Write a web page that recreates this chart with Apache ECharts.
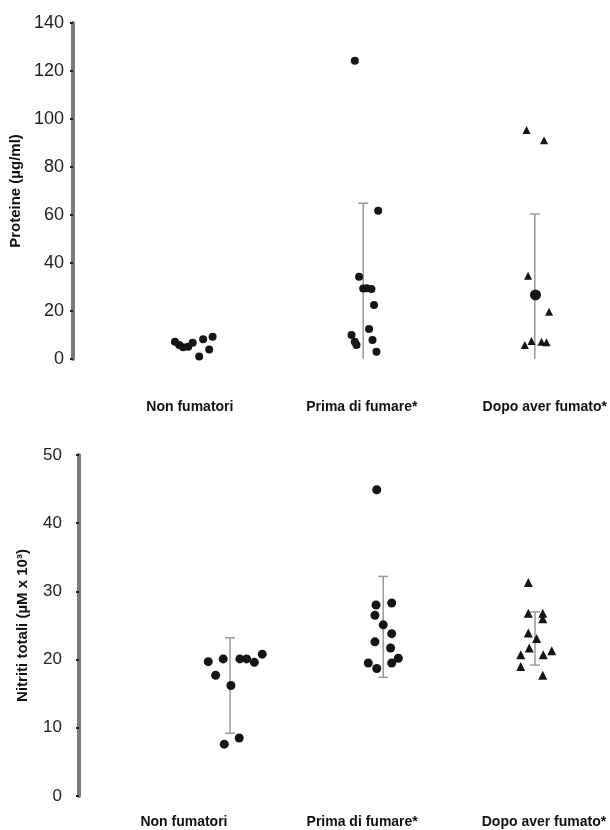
<!DOCTYPE html>
<html>
<head>
<meta charset="utf-8">
<script src="https://cdn.jsdelivr.net/npm/echarts@6/dist/echarts.min.js"></script>
<style>
  body{margin:0;background:#fff}
  #main{width:610px;height:830px}
</style>
</head>
<body>
<div id="main"></div>
<script>
const categories = ['Non fumatori', 'Prima di fumare*', 'Dopo aver fumato*']

// proteine (ug/ml) - [x position (group + jitter), value]
const protNon = [[-0.087,7.2],[-0.062,5.8],[-0.039,4.9],[-0.010,5.1],[0.016,6.8],[0.054,1.0],[0.077,8.2],[0.112,4.0],[0.132,9.3]]
const protPrima = [[0.959,124.3],[1.095,61.8],[0.984,34.3],[1.008,29.4],[1.030,29.5],[1.056,29.2],[1.071,22.5],[1.042,12.5],[0.940,10.0],[0.959,7.2],[0.969,5.8],[1.062,7.9],[1.085,3.0]]
const protDopo = [[1.958,95.4],[2.060,91.1],[1.967,34.7],[2.089,19.7],[1.948,5.8],[1.987,7.5],[2.045,7.2],[2.074,7.0]]
const protDopoBig = [[2.010,26.7]]
// error bars [x, low, high]
const protBars = [[1.008,0,64.9],[2.006,0,60.4]]

// nitriti totali (uM x 10^3)
const nitNon = [[0.135,19.7],[0.218,20.1],[0.176,17.7],[0.261,16.2],[0.311,20.1],[0.348,20.1],[0.391,19.6],[0.435,20.8],[0.224,7.6],[0.307,8.5]]
const nitPrima = [[1.071,44.9],[1.067,28.0],[1.154,28.3],[1.061,26.5],[1.107,25.1],[1.154,23.8],[1.061,22.6],[1.148,21.7],[1.024,19.5],[1.071,18.7],[1.154,19.5],[1.191,20.2]]
const nitDopo = [[1.913,31.3],[1.913,26.8],[1.993,26.8],[1.993,26.0],[1.913,23.9],[1.959,23.1],[1.918,21.7],[1.871,20.7],[1.996,20.7],[2.043,21.3],[1.871,19.0],[1.993,17.7]]
const nitBars = [[0.256,9.2,23.2],[1.107,17.4,32.2],[1.95,19.2,27.0]]

const dotColor = '#151515'

function xAxisFor(gridIndex, min, max, labelPos, margin){
  return {
    type:'value', gridIndex:gridIndex, min:min, max:max,
    axisLine:{show:false, onZero:false}, axisTick:{show:false}, splitLine:{show:false},
    axisLabel:{
      customValues:labelPos,
      margin:margin,
      fontFamily:'Liberation Sans', fontWeight:'bold', fontSize:14, color:'#111',
      formatter:function(v){
        let i = labelPos.indexOf(v)
        return i >= 0 ? categories[i] : ''
      }
    }
  }
}

function yAxisFor(gridIndex, max, interval, name, nameGap, labelMargin, labelSize){
  return {
    type:'value', gridIndex:gridIndex, min:0, max:max, interval:interval,
    name:name, nameLocation:'middle', nameGap:nameGap,
    nameTextStyle:{fontFamily:'Liberation Sans', fontWeight:'bold', fontSize:15, color:'#111'},
    axisLine:{show:true, onZero:false, lineStyle:{color:'#7a7a7a', width:4}},
    axisTick:{show:true, length:3, lineStyle:{color:'#222', width:2}},
    splitLine:{show:false},
    axisLabel:{fontFamily:'Liberation Sans', fontSize:labelSize, color:'#222', margin:labelMargin}
  }
}

function scatter(data, idx, symbol, size){
  return {
    type:'scatter', xAxisIndex:idx, yAxisIndex:idx, data:data,
    symbol:symbol, symbolSize:size, z:3,
    itemStyle:{color:dotColor, opacity:1}
  }
}

// vertical bar with caps, drawn through the axes
function errorBars(data, idx){
  return {
    type:'custom', xAxisIndex:idx, yAxisIndex:idx, data:data, z:2,
    encode:{x:0, y:[1,2]},
    renderItem:function(params, api){
      const x = api.value(0), lo = api.value(1), hi = api.value(2)
      const pLo = api.coord([x, lo]), pHi = api.coord([x, hi])
      const st = {stroke:'#9a9a9a', lineWidth:1.5}
      const children = [
        {type:'line', shape:{x1:pHi[0], y1:pHi[1], x2:pLo[0], y2:pLo[1]}, style:st},
        {type:'line', shape:{x1:pHi[0]-5, y1:pHi[1], x2:pHi[0]+5, y2:pHi[1]}, style:st}
      ]
      if(lo > 0){
        children.push({type:'line', shape:{x1:pLo[0]-5, y1:pLo[1], x2:pLo[0]+5, y2:pLo[1]}, style:st})
      }
      return {type:'group', children:children}
    }
  }
}

const myChart = echarts.init(document.querySelector('#main'), null, {renderer:'canvas'})
const option = {
  backgroundColor:'#fff',
  animation:false,
  grid:[
    {left:73, top:23, width:516, height:336},
    {left:79, top:455, width:519, height:341}
  ],
  xAxis:[
    xAxisFor(0, -0.68, 2.32, [0, 1.0, 2.064], 41),
    xAxisFor(1, -0.583, 2.3, [0, 0.99, 2.0], 19)
  ],
  yAxis:[
    yAxisFor(0, 140, 20, 'Proteine (µg/ml)', 46, 9, 18),
    yAxisFor(1, 50, 10, 'Nitriti totali (µM x 10³)', 49, 17, 17)
  ],
  series:[
    errorBars(protBars, 0),
    scatter(protNon, 0, 'circle', 8),
    scatter(protPrima, 0, 'circle', 8),
    scatter(protDopo, 0, 'triangle', 8),
    scatter(protDopoBig, 0, 'circle', 11),
    errorBars(nitBars, 1),
    scatter(nitNon, 1, 'circle', 9),
    scatter(nitPrima, 1, 'circle', 9),
    scatter(nitDopo, 1, 'triangle', 9)
  ]
}
myChart.setOption(option)
</script>
</body>
</html>
